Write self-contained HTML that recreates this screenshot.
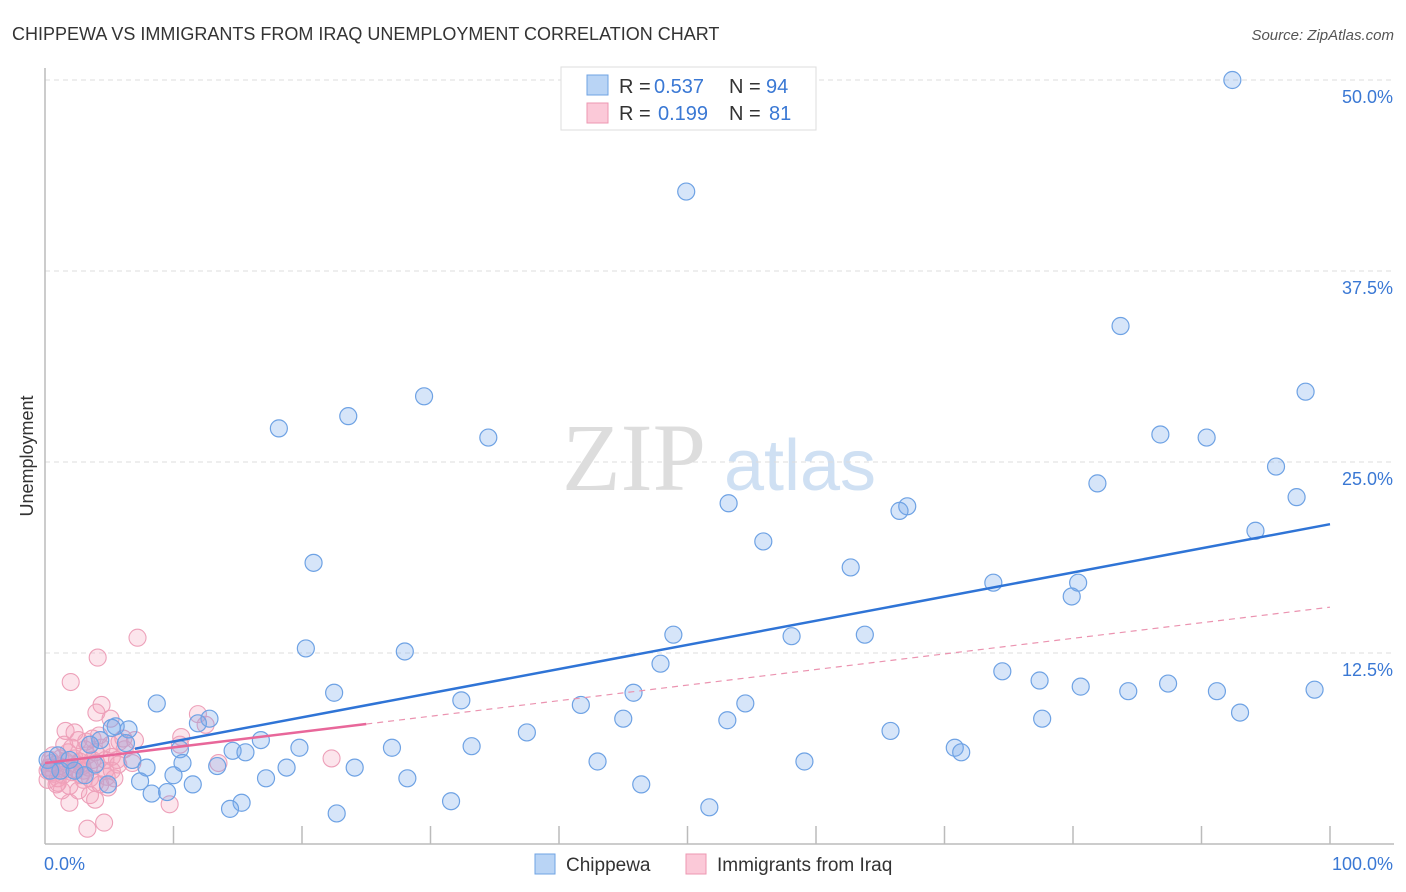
<!DOCTYPE html>
<html><head><meta charset="utf-8"><style>
body{margin:0;background:#fff;font-family:"Liberation Sans",sans-serif;}
svg{display:block}
</style></head><body>
<svg id="chart" width="1406" height="892" xmlns="http://www.w3.org/2000/svg">
<text x="12" y="40" font-size="18" fill="#333">CHIPPEWA VS IMMIGRANTS FROM IRAQ UNEMPLOYMENT CORRELATION CHART</text>
<text x="1394" y="40" font-size="15" fill="#555" font-style="italic" text-anchor="end">Source: ZipAtlas.com</text>
<g>
<text x="634" y="490" font-size="96" fill="#ddd" font-family="Liberation Serif,serif" text-anchor="middle">ZIP</text>
<text x="800" y="490" font-size="72" fill="#cfe0f3" text-anchor="middle">atlas</text>
</g>
<g id="grid"></g>
<g id="axes"></g>
<g id="pts"></g>
<g id="lines"></g>
<text transform="translate(33,456) rotate(-90)" font-size="18" fill="#333" text-anchor="middle">Unemployment</text>
<g>
<rect x="561" y="67" width="255" height="63" fill="#fff" stroke="#ddd"/>
<rect x="587" y="75" width="21" height="20" fill="#b9d4f5" stroke="#6fa3e3"/>
<rect x="587" y="103" width="21" height="20" fill="#fbc9d8" stroke="#ec97b2"/>
<text x="619" y="93" font-size="20" fill="#333">R =</text>
<text x="654" y="93" font-size="20" fill="#3a78d4">0.537</text>
<text x="729" y="93" font-size="20" fill="#333">N =</text>
<text x="766" y="93" font-size="20" fill="#3a78d4">94</text>
<text x="619" y="120" font-size="20" fill="#333">R =</text>
<text x="658" y="120" font-size="20" fill="#3a78d4">0.199</text>
<text x="729" y="120" font-size="20" fill="#333">N =</text>
<text x="769" y="120" font-size="20" fill="#3a78d4">81</text>
</g>
<g>
<rect x="535" y="854" width="20" height="20" fill="#b9d4f5" stroke="#6fa3e3"/>
<text x="566" y="871" font-size="19" fill="#333">Chippewa</text>
<rect x="686" y="854" width="20" height="20" fill="#fbc9d8" stroke="#ec97b2"/>
<text x="717" y="871" font-size="19" fill="#333">Immigrants from Iraq</text>
</g>
</svg>
<script>
const blueX=[92.4,49.9,83.7,98.1,29.5,23.6,18.2,34.5,86.8,90.4,95.8,81.9,97.4,53.2,67.1,66.5,94.2,55.9,20.9,62.7,73.8,80.4,79.9,48.9,63.8,58.1,20.3,28.0,47.9,74.5,77.4,87.4,80.6,84.3,91.2,98.8,22.5,45.8,8.7,32.4,54.5,41.7,93.0,12.8,45.0,53.1,77.6,65.8,37.5,11.9,16.8,6.5,5.5,6.3,33.2,27.0,19.8,70.8,71.3,14.6,15.6,10.5,13.4,6.8,10.7,43.0,59.1,7.9,10.0,24.1,18.8,17.2,28.2,7.4,11.5,46.4,8.3,9.5,15.3,14.4,31.6,51.7,22.7,4.9,1.0,0.2,1.2,2.3,3.1,3.9,4.3,5.2,3.5,1.9,0.4];
const blueY=[50.0,42.7,33.9,29.6,29.3,28.0,27.2,26.6,26.8,26.6,24.7,23.6,22.7,22.3,22.1,21.8,20.5,19.8,18.4,18.1,17.1,17.1,16.2,13.7,13.7,13.6,12.8,12.6,11.8,11.3,10.7,10.5,10.3,10.0,10.0,10.1,9.9,9.9,9.2,9.4,9.2,9.1,8.6,8.2,8.2,8.1,8.2,7.4,7.3,7.9,6.8,7.5,7.7,6.6,6.4,6.3,6.3,6.3,6.0,6.1,6.0,6.2,5.1,5.5,5.3,5.4,5.4,5.0,4.5,5.0,5.0,4.3,4.3,4.1,3.9,3.9,3.3,3.4,2.7,2.3,2.8,2.4,2.0,3.9,5.8,5.5,4.8,4.8,4.5,5.2,6.8,7.6,6.5,5.5,4.8];
const pinkX=[7.2,4.1,2.0,4.4,4.0,5.1,1.6,2.3,11.9,10.6,10.5,12.5,13.5,22.3,6.8,7.0,9.7,1.9,3.3,4.6,2.6,3.1,3.7,4.7,5.4,4.9,3.9,3.0,1.4,0.8,0.4,0.5,1.0,1.6,2.1,2.5,3.0,3.4,1.2,1.8,2.3,2.7,3.3,3.9,4.4,5.1,5.8,6.2,5.6,0.9,1.3,1.9,2.6,3.5,4.3,0.2,0.2,0.6,1.5,2.1,3.2,3.7,4.2,4.7,5.2,5.7,6.1,3.9,5.2,1.6,2.8,3.5,0.3,0.7,1.1,2.4,4.0,4.8,1.0,2.9,0.5];
const pinkY=[13.5,12.2,10.6,9.1,8.6,8.2,7.4,7.3,8.5,7.0,6.5,7.8,5.3,5.6,5.3,6.8,2.6,2.7,1.0,1.4,6.8,6.2,5.5,4.8,4.3,3.7,4.0,4.2,4.5,5.2,5.5,4.7,4.3,5.0,4.7,5.2,4.8,5.0,5.6,6.0,5.6,5.4,5.8,6.0,6.3,6.5,6.7,6.2,5.5,3.9,3.5,3.8,3.5,3.2,3.9,4.8,4.2,5.8,6.5,6.3,6.7,6.9,7.1,5.5,5.7,5.2,6.9,2.9,4.8,5.4,4.5,4.3,5.0,4.6,5.1,4.9,5.3,4.4,4.0,5.1,5.3];
const yTicks=[12.5,25.0,37.5,50.0];
const xTickVals=[10,20,30,40,50,60,70,80,90,100];
const blueFit=[5.13,0.158];
const pinkFit=[5.3,0.102];
const pinkSolidEnd=25;

const NS="http://www.w3.org/2000/svg";
const X=v=>45+v*12.85, Y=v=>844-v*15.28;
function mk(tag,attrs,parent){const e=document.createElementNS(NS,tag);for(const k in attrs)e.setAttribute(k,attrs[k]);document.getElementById(parent).appendChild(e);return e;}
yTicks.forEach(t=>{
  const g=mk('line',{x1:45,x2:1394,y1:Y(t),y2:Y(t),stroke:'#ddd','stroke-dasharray':'5,4'},'grid');
  
  
  const l=mk('text',{x:1393,y:Y(t)+23,'font-size':18,fill:'#3a78d4','text-anchor':'end'},'grid');
  l.textContent=t.toFixed(1)+'%';
  
  
});
const ax=mk('line',{x1:45,x2:45,y1:68,y2:844,stroke:'#bbb','stroke-width':1.5},'axes');


const bx=mk('line',{x1:45,x2:1394,y1:844,y2:844,stroke:'#bbb','stroke-width':1.5},'axes');


xTickVals.forEach(t=>{
  const tk=mk('line',{x1:X(t),x2:X(t),y1:826,y2:844,stroke:'#bbb','stroke-width':1.5},'axes');
  
  
});
const x0=mk('text',{x:44,y:870,'font-size':18,fill:'#3a78d4'},'axes');x0.textContent='0.0%';


const x1=mk('text',{x:1393,y:870,'font-size':18,fill:'#3a78d4','text-anchor':'end'},'axes');x1.textContent='100.0%';


pinkX.forEach((v,i)=>{
  const c=mk('circle',{cx:X(v),cy:Y(pinkY[i]),r:8.5,fill:'rgba(244,160,186,0.28)',stroke:'#eda0b9','stroke-width':1.1},'pts');
  
  
});
blueX.forEach((v,i)=>{
  const c=mk('circle',{cx:X(v),cy:Y(blueY[i]),r:8.5,fill:'rgba(120,170,235,0.3)',stroke:'#6ea2e4','stroke-width':1.2},'pts');
  
  
});
const bl=mk('line',{x1:X(7),y1:Y(blueFit[0]+blueFit[1]*7),x2:X(100),y2:Y(blueFit[0]+blueFit[1]*100),stroke:'#2f74d6','stroke-width':2.5},'lines');


const pl=mk('line',{x1:X(0),y1:Y(pinkFit[0]),x2:X(pinkSolidEnd),y2:Y(pinkFit[0]+pinkFit[1]*pinkSolidEnd),stroke:'#e8679a','stroke-width':2.5},'lines');


const pd=mk('line',{x1:X(pinkSolidEnd),y1:Y(pinkFit[0]+pinkFit[1]*pinkSolidEnd),x2:X(100),y2:Y(pinkFit[0]+pinkFit[1]*100),stroke:'#eb93b0','stroke-width':1.2,'stroke-dasharray':'6,5'},'lines');


</script>
</body></html>
